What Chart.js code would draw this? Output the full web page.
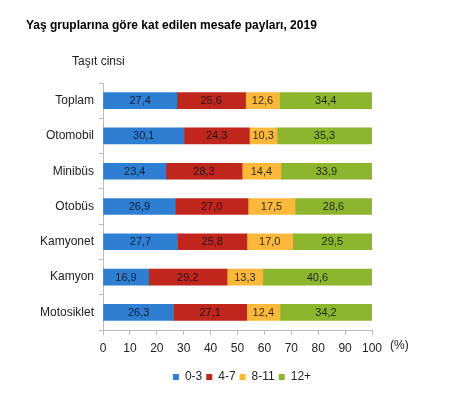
<!DOCTYPE html>
<html>
<head>
<meta charset="utf-8">
<script src="https://cdn.jsdelivr.net/npm/chart.js@4"></script>
<style>
  html, body { margin: 0; padding: 0; background: #fff; }
  #wrap { width: 453px; height: 393px; position: relative; }
</style>
</head>
<body>
<div id="wrap"><canvas id="c"></canvas></div>
<script>
// --- Data ---

const CATEGORIES = ['Toplam', 'Otomobil', 'Minibüs', 'Otobüs', 'Kamyonet', 'Kamyon', 'Motosiklet'];
const SERIES_NAMES = ['0-3', '4-7', '8-11', '12+'];
const AGE_0_3 = [27.4, 30.1, 23.4, 26.9, 27.7, 16.9, 26.3];
const AGE_4_7 = [25.6, 24.3, 28.3, 27.0, 25.8, 29.2, 27.1];
const AGE_8_11 = [12.6, 10.3, 14.4, 17.5, 17.0, 13.3, 12.4];
const AGE_12_PLUS = [34.4, 35.3, 33.9, 28.6, 29.5, 40.6, 34.2];
const X_TICKS = [0, 10, 20, 30, 40, 50, 60, 70, 80, 90, 100];

const TITLE = 'Yaş gruplarına göre kat edilen mesafe payları, 2019';
const AXIS_TITLE = 'Taşıt cinsi';
const UNIT = '(%)';

const COLORS = ['#2e7fd1', '#c0261c', '#fbb83a', '#8db62e'];
const FONT = '"Liberation Sans", Arial, sans-serif';

const fmt = v => v.toFixed(1).replace('.', ',');

// --- Plugins ---

const barLabels = {
  id: 'barLabels',
  afterDatasetsDraw(chart) {
    const ctx = chart.ctx;
    ctx.save();
    ctx.font = '11px ' + FONT;
    ctx.textAlign = 'center';
    ctx.textBaseline = 'middle';
    ctx.fillStyle = 'rgba(10,15,30,0.85)';
    chart.data.datasets.forEach((ds, di) => {
      chart.getDatasetMeta(di).data.forEach((el, i) => {
        const p = el.getProps(['x', 'y', 'base'], true);
        ctx.fillText(fmt(ds.data[i]), (p.x + p.base) / 2, p.y + 0.5);
      });
    });
    ctx.restore();
  }
};

const extraText = {
  id: 'extraText',
  afterDraw(chart) {
    const ctx = chart.ctx;
    const x = chart.scales.x;
    ctx.save();
    ctx.fillStyle = '#000';
    ctx.textBaseline = 'middle';
    ctx.textAlign = 'left';
    ctx.font = 'bold 12px ' + FONT;
    ctx.fillText(TITLE, 26, 26);
    ctx.fillStyle = '#222';
    ctx.font = '12px ' + FONT;
    ctx.fillText(AXIS_TITLE, 72, 62);
    ctx.fillText(UNIT, x.right + 18, x.top + 16);
    ctx.restore();
  }
};

// --- Chart ---

const datasets = [AGE_0_3, AGE_4_7, AGE_8_11, AGE_12_PLUS].map((d, i) => ({
  label: SERIES_NAMES[i],
  data: d,
  backgroundColor: COLORS[i],
  barThickness: 16
}));

new Chart(document.getElementById('c'), {
  type: 'bar',
  data: { labels: CATEGORIES, datasets },
  plugins: [barLabels, extraText],
  options: {
    indexAxis: 'y',
    responsive: true,
    maintainAspectRatio: false,
    animation: false,
    layout: { padding: { top: 83, left: 31, right: 0, bottom: 0 } },
    plugins: {
      tooltip: { enabled: false },
      legend: {
        position: 'bottom',
        labels: {
          boxWidth: 6, boxHeight: 6, padding: 4,
          color: '#222', font: { family: FONT, size: 12 }
        }
      }
    },
    scales: {
      x: {
        stacked: true, min: 0, max: 100,
        afterBuildTicks: s => { s.ticks = X_TICKS.map(v => ({ value: v })); },
        afterFit: s => { s.height = 37; },
        ticks: { color: '#222', font: { family: FONT, size: 12 }, padding: 6 },
        grid: { drawOnChartArea: false, drawTicks: true, tickLength: 5, color: '#bbb' },
        border: { color: '#bbb' }
      },
      y: {
        stacked: true,
        afterFit: s => { s.width = 72; },
        ticks: { color: '#222', font: { family: FONT, size: 12 }, padding: 5 },
        grid: { offset: true, drawOnChartArea: false, tickLength: 4, color: '#bbb' },
        border: { color: '#bbb' }
      },
      y2: {
        type: 'linear', position: 'right', display: true,
        afterFit: s => { s.width = 81; },
        ticks: { display: false },
        grid: { display: false },
        border: { display: false }
      }
    }
  }
});
</script>
</body>
</html>
